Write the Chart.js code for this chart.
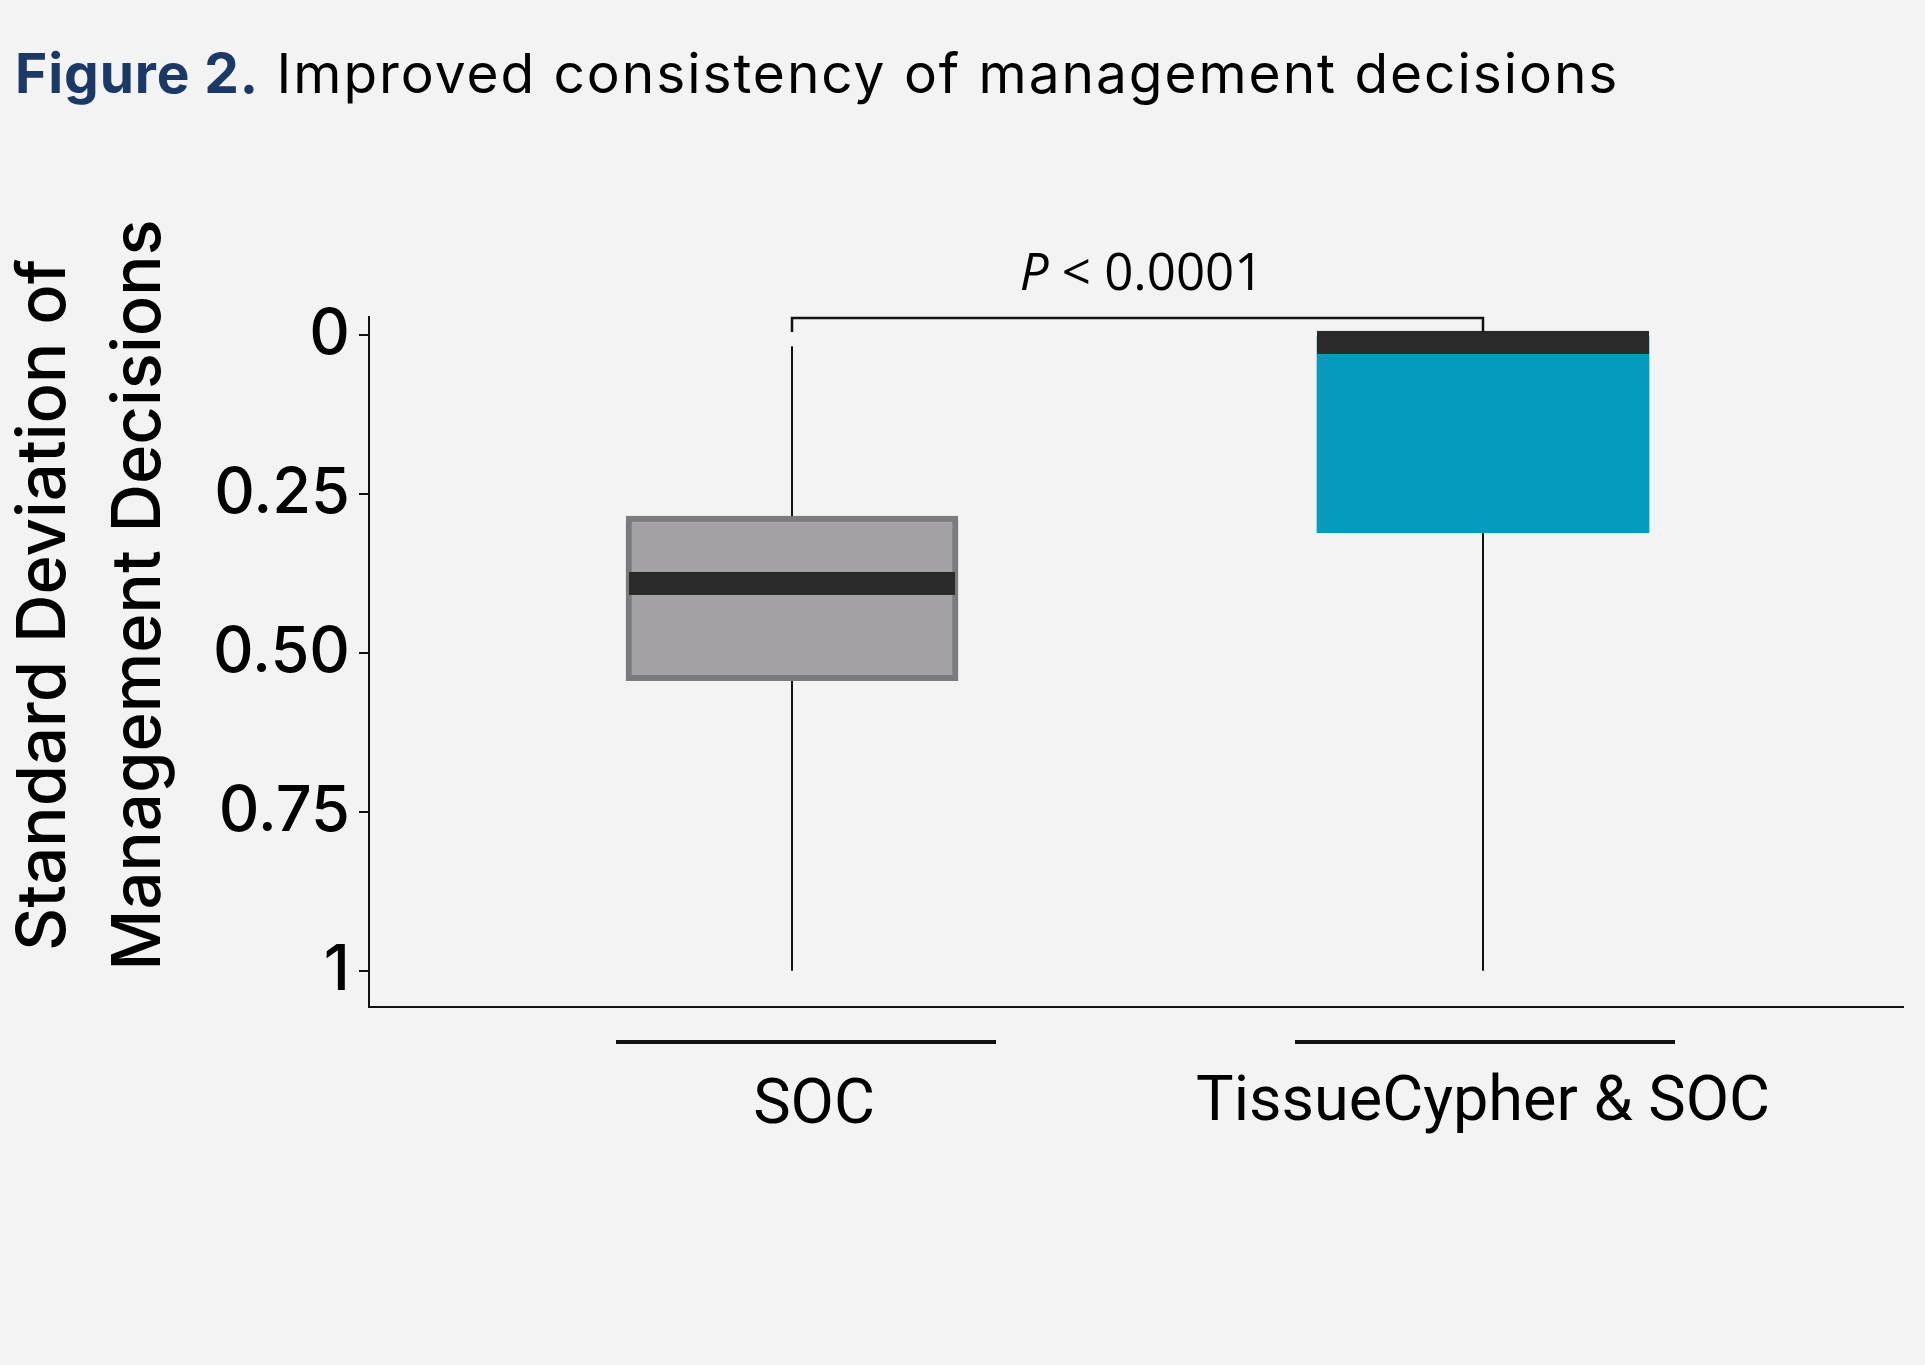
<!DOCTYPE html>
<html><head><meta charset="utf-8">
<script src="https://cdn.jsdelivr.net/npm/chart.js@4.4.1/dist/chart.umd.min.js"></script>
<style>
html,body{margin:0;padding:0;background:#f3f3f3;width:1925px;height:1365px;overflow:hidden}
#title{position:absolute;left:15px;top:46px;font-family:Inter,sans-serif;font-size:55px;line-height:55px;white-space:nowrap;color:#000;font-weight:400;letter-spacing:1.95px}
#title b{color:#1b3966;font-weight:700;letter-spacing:0.9px}
#wrap{position:absolute;left:0;top:0;width:1925px;height:1365px}
</style></head><body>
<div id="wrap"><canvas id="c" width="1925" height="1365"></canvas></div>
<div id="title"><b>Figure 2.</b> Improved consistency of management decisions</div>
<script>
// ---- data ----
const categories = ["SOC", "TissueCypher & SOC"];
const q1 = [0.285, 0.0];
const q3 = [0.544, 0.311];
const medians = [0.391, 0.012];
const whiskerLow = [0.018, 0.0];
const whiskerHigh = [1.0, 1.0];
const yTickValues = [0, 0.25, 0.5, 0.75, 1];
const yTickLabels = ["0", "0.25", "0.50", "0.75", "1"];
const yTitleLines = ["Standard Deviation of", "Management Decisions"];
const pLabelItalic = "P";
const pLabelRest = " < 0.0001";

// ---- styles / layout ----
const boxFill = ['#a4a2a5', '#049bbf'];
const boxBorder = ['#7b7a7c', 'rgba(0,0,0,0)'];
const boxBorderW = [6, 0];
const medianColor = '#2a2a2a';
const inkColor = '#111';
const xLabelShift = [22, 0];   // pixel nudges of the category labels
const xRuleShift = [14, 2];    // pixel nudges of the rules above the labels

const extras = {
  id: 'boxExtras',
  beforeDatasetsDraw(chart) {
    const {ctx, scales: {x, y}} = chart;
    ctx.save();
    ctx.strokeStyle = inkColor;
    ctx.lineWidth = 2;
    categories.forEach((c, i) => {
      const px = Math.round(x.getPixelForValue(i + 1));
      ctx.beginPath();
      ctx.moveTo(px, y.getPixelForValue(whiskerLow[i]));
      ctx.lineTo(px, y.getPixelForValue(whiskerHigh[i]));
      ctx.stroke();
    });
    ctx.restore();
  },
  afterDatasetsDraw(chart) {
    const {ctx, scales: {x, y}, chartArea} = chart;
    const meta = chart.getDatasetMeta(0);
    ctx.save();
    // median bands
    ctx.fillStyle = medianColor;
    categories.forEach((c, i) => {
      const bar = meta.data[i];
      const w = bar.width - boxBorderW[i];
      const py = y.getPixelForValue(medians[i]);
      ctx.fillRect(bar.x - w / 2, py - 11.5, w, 23);
    });
    // significance bracket
    const x1 = Math.round(x.getPixelForValue(1));
    const x2 = Math.round(x.getPixelForValue(2));
    const yb = chartArea.top + 1;
    ctx.strokeStyle = inkColor;
    ctx.lineWidth = 2.5;
    ctx.beginPath();
    ctx.moveTo(x1, yb + 14);
    ctx.lineTo(x1, yb);
    ctx.lineTo(x2, yb);
    ctx.lineTo(x2, yb + 14);
    ctx.stroke();
    // p label
    ctx.fillStyle = '#000';
    ctx.textBaseline = 'middle';
    ctx.textAlign = 'left';
    const fi = 'italic 51px "Open Sans"';
    const fr = '51px "Open Sans"';
    ctx.font = fi; const wi = ctx.measureText(pLabelItalic).width;
    ctx.font = fr; const wr = ctx.measureText(pLabelRest).width;
    const cx = (x1 + x2) / 2 + 4;
    const sx = cx - (wi + wr) / 2;
    const ly = yb - 43;
    ctx.font = fi; ctx.fillText(pLabelItalic, sx, ly);
    ctx.font = fr; ctx.fillText(pLabelRest, sx + wi, ly);
    // rules and category labels under x axis
    ctx.fillStyle = inkColor;
    categories.forEach((c, i) => {
      const px = x.getPixelForValue(i + 1);
      ctx.fillRect(px - 190 + xRuleShift[i], x.top + 33, 380, 4);
    });
    ctx.fillStyle = '#000';
    ctx.font = '400 63px Roboto';
    ctx.textAlign = 'center';
    ctx.textBaseline = 'middle';
    categories.forEach((c, i) => {
      const px = x.getPixelForValue(i + 1);
      ctx.fillText(c, px + xLabelShift[i], x.top + 100 - i * 3);
    });
    ctx.restore();
  },
  afterDraw(chart) {
    const {ctx} = chart;
    ctx.save();
    ctx.fillStyle = '#000';
    ctx.font = '500 67px Inter';
    ctx.textAlign = 'center';
    ctx.textBaseline = 'alphabetic';
    const pos = [[65, 605], [160, 595]];
    yTitleLines.forEach((t, i) => {
      ctx.save();
      ctx.translate(pos[i][0], pos[i][1]);
      ctx.rotate(-Math.PI / 2);
      ctx.fillText(t, 0, 0);
      ctx.restore();
    });
    ctx.restore();
  }
};

new Chart(document.getElementById('c'), {
  type: 'bar',
  data: {
    datasets: [{
      data: categories.map((c, i) => ({x: i + 1, y: [q1[i], q3[i]]})),
      backgroundColor: boxFill,
      borderColor: boxBorder,
      borderWidth: boxBorderW,
      borderSkipped: false,
      barThickness: 332
    }]
  },
  options: {
    responsive: false,
    animation: false,
    devicePixelRatio: 1,
    layout: {padding: {top: 317, right: 22, left: 0, bottom: 0}},
    plugins: {legend: {display: false}, tooltip: {enabled: false}},
    scales: {
      x: {
        type: 'linear', min: 0.3878, max: 2.6078, offset: false,
        afterBuildTicks: s => { s.ticks = categories.map((c, i) => ({value: i + 1})); },
        afterFit: s => { s.height = 358; },
        ticks: {display: false},
        grid: {display: false, drawTicks: false},
        border: {display: true, color: inkColor, width: 2}
      },
      y: {
        reverse: true, min: -0.028, max: 1.057,
        afterBuildTicks: s => { s.ticks = yTickValues.map(v => ({value: v})); },
        afterFit: s => { s.width = 369; },
        ticks: {
          callback: (v, i) => yTickLabels[i],
          font: {family: 'Inter', size: 63, weight: '500'},
          color: '#000', padding: 9, autoSkip: false
        },
        grid: {display: true, drawOnChartArea: false, drawTicks: true, tickLength: 10, color: inkColor, lineWidth: 2},
        border: {display: true, color: inkColor, width: 2}
      }
    }
  },
  plugins: [extras]
});
</script>
</body></html>
